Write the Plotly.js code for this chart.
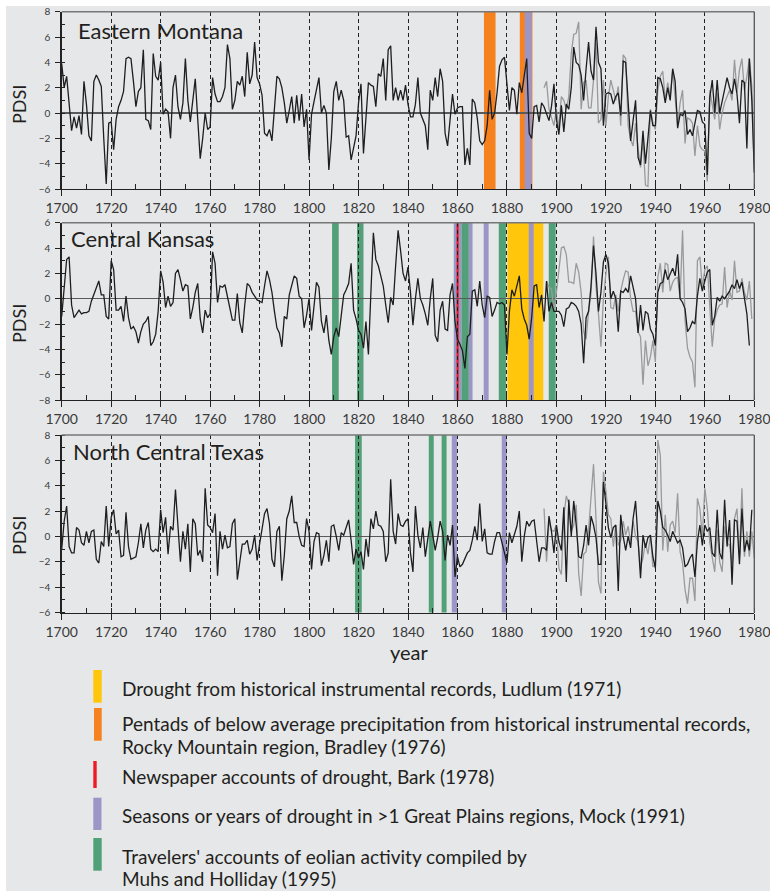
<!DOCTYPE html>
<html><head><meta charset="utf-8">
<script src="https://cdn.plot.ly/plotly-3.0.1.min.js"></script>
<style>html,body{margin:0;padding:0;background:#fff}#chart{width:770px;height:891px}</style>
</head><body><div id="chart"></div>
<script>
// ---------------- DATA ----------------
const treeStart = 1700;
const montanaTree = [
 3.9,2.0,2.9,1.0,-1.4,-0.3,-1.2,-0.2,-1.7,2.5,
 0.7,-1.8,-2.2,2.5,3.0,2.6,2.1,-2.0,-5.6,-0.8,
 -0.7,-2.9,-0.5,0.5,1.0,1.7,4.3,4.4,4.3,2.5,
 0.5,1.7,2.0,5.0,-0.5,-0.6,-1.3,4.7,2.9,2.6,
 4.0,-0.1,0.3,0.1,-2.0,2.0,3.0,0.5,-0.5,0.8,
 4.3,1.0,-0.7,1.0,2.7,-0.5,-3.6,-2.0,0.0,-1.3,
 -1.1,2.8,1.5,0.9,0.9,1.3,2.0,5.4,4.3,0.3,
 1.0,2.5,2.2,2.9,1.3,4.8,2.3,3.0,5.6,2.8,
 2.3,1.4,-1.6,-1.8,-1.3,-2.2,0.6,2.9,2.7,2.0,
 0.8,-0.8,0.2,1.3,-0.8,1.4,-0.6,1.5,-1.1,0.3,
 -3.7,-0.1,0.9,2.0,2.8,0.0,0.6,0.0,-4.5,-2.0,
 1.7,2.5,1.0,1.8,1.0,-1.9,-1.8,-3.7,-2.8,-1.8,
 0.8,2.3,-3.2,0.0,2.4,2.2,2.1,0.5,3.1,2.9,
 4.3,1.0,5.0,5.3,1.0,2.0,1.0,1.8,1.0,2.2,
 0.7,-0.3,-0.3,0.7,2.8,0.0,-0.5,-1.0,-2.9,1.8,
 1.0,2.8,1.3,3.5,2.5,-1.6,-2.6,-0.6,1.5,-0.1,
 0.4,0.5,0.5,-4.1,-2.8,-4.1,1.1,0.8,-0.4,-2.2,
 -2.5,-2.2,-1.0,1.8,-0.5,0.0,1.6,3.7,4.2,4.4,
 2.0,0.2,2.0,1.8,-0.1,2.4,1.6,2.8,4.3,-1.6,
 -2.0,0.5,0.6,-0.7,0.8,0.5,0.0,-0.6,0.5,2.3,
 -0.5,-1.7,0.6,-1.5,0.7,0.3,2.0,5.2,4.0,3.8,
 3.0,1.0,3.5,5.6,3.3,2.6,6.8,4.0,3.5,-1.0,
 1.5,1.6,1.5,0.7,1.3,1.6,-0.2,4.1,4.0,1.0,
 -2.2,-0.6,1.0,-3.5,-4.1,-1.4,-4.0,-2.0,0.2,-1.0,
 -1.0,2.8,2.7,2.0,0.8,2.0,1.0,3.5,2.5,-1.2,
 -0.1,-0.2,0.2,-1.7,-1.3,-1.8,-0.9,0.2,0.1,-0.7,
 -0.9,-4.9,1.2,2.6,0.0,2.6,0.0,1.0,1.8,2.8,
 2.0,1.5,2.7,1.5,-0.8,2.6,2.4,-2.8,4.3,1.0,
 -4.7];
const montanaInstrStart = 1895;
const montanaInstr = [
 2.0,2.5,0.3,-0.3,-1.0,0.3,-1.2,1.3,1.0,0.3,
 1.3,4.7,6.2,6.3,7.2,0.3,2.4,2.6,0.4,0.4,
 2.6,5.5,-0.8,-0.5,2.6,-1.0,1.3,2.6,1.8,1.0,
 2.1,-1.0,4.6,4.3,-1.0,-2.1,-2.6,-0.8,-2.8,-4.3,
 -2.1,-5.7,-5.8,0.3,-0.8,-1.3,1.8,2.9,3.3,1.0,
 2.4,1.3,3.4,1.0,-1.0,0.8,1.8,-2.4,-0.4,-0.5,
 -0.8,-3.4,-1.0,-2.6,-2.9,-3.0,-5.4,1.8,0.5,-0.5,
 1.6,-1.3,0.0,0.8,1.3,1.8,1.0,4.2,1.6,3.4,
 4.3,1.8,2.9,4.3,2.1,-4.7];

const kansasTree = [
 -1.4,0.8,3.1,3.3,-0.5,-1.5,-1.2,-0.9,-1.2,-1.1,
 -1.1,-1.0,-0.2,0.3,0.9,1.4,0.3,0.3,-1.4,-1.6,
 3.0,2.3,-0.9,-0.9,-0.6,-1.8,0.2,-1.5,-2.4,-2.2,
 -2.6,-3.5,-2.6,-2.0,-1.8,-1.4,-3.7,-3.4,-2.8,-1.0,
 2.2,1.3,-0.7,0.2,-0.6,-0.3,2.0,2.3,1.5,0.6,
 1.1,1.0,-1.6,-0.7,0.5,1.2,-1.6,-2.7,-0.9,-1.5,
 -1.2,3.7,2.8,-0.3,1.0,0.9,1.1,0.2,-0.6,-1.7,
 -1.7,0.4,-1.9,-2.7,-0.5,1.2,1.0,0.5,0.2,-0.1,
 -0.2,-0.3,1.0,2.2,1.5,0.5,-1.0,-2.3,-2.7,-3.8,
 -1.4,-1.6,0.3,1.0,1.8,1.6,0.2,0.0,-2.3,-1.3,
 0.0,-2.5,-0.5,1.3,0.9,-1.8,-2.7,-1.3,-3.3,-4.4,
 -3.0,-2.3,-3.0,-1.3,0.3,0.7,1.2,2.8,-0.9,-1.6,
 -2.5,-2.8,-3.9,-1.8,-4.4,0.5,5.2,3.1,2.6,1.8,
 1.0,-0.5,-1.9,0.1,-0.5,2.6,5.4,3.8,2.0,1.4,
 2.5,0.5,-2.1,0.0,1.6,0.0,-0.5,-1.2,-2.1,0.0,
 1.6,-2.9,-3.4,-0.9,-0.2,-2.4,-2.5,0.3,1.2,-1.8,
 -3.2,-3.6,-4.1,-5.5,-3.0,-2.8,0.6,0.7,-0.6,1.4,
 -0.5,-1.5,0.2,0.1,-1.4,-0.9,-0.3,-0.4,-0.3,-0.5,
 -4.4,-1.0,0.7,0.2,1.0,1.8,-0.8,-1.6,-2.1,-3.2,
 -1.5,1.0,1.1,-0.7,0.3,-1.8,1.4,-1.0,-0.3,-1.0,
 -1.0,-1.0,-1.3,-2.2,-0.8,-0.7,-0.3,-0.4,-0.6,-1.0,
 -2.0,-5.1,-1.5,-1.0,1.0,4.2,2.0,-1.0,0.5,2.9,
 3.5,2.8,0.0,0.6,0.0,-2.6,0.6,0.5,0.8,0.5,
 1.8,0.8,0.0,-2.7,-0.5,-2.5,-1.0,-1.2,-2.4,-2.8,
 -3.7,0.5,1.2,1.3,2.3,1.5,1.9,2.4,1.8,3.5,
 0.0,-0.3,-0.8,-2.6,-2.3,-1.8,-2.0,0.2,1.6,0.6,
 1.4,2.1,2.3,-2.1,-1.4,0.1,-0.2,0.2,0.0,0.3,
 0.6,1.1,0.8,1.5,0.8,1.3,0.1,-1.2,-3.7];
const kansasInstrStart = 1896;
const kansasInstr = [
 1.4,0.9,0.8,-1.0,0.5,2.5,4.0,4.1,3.5,1.3,
 1.3,1.2,2.8,2.1,0.5,-2.6,-3.2,-1.0,0.4,4.9,
 1.0,-1.2,-3.8,0.0,2.0,3.3,-0.7,-0.8,0.3,-1.0,
 0.6,1.5,2.2,2.1,0.0,-1.0,-1.0,-2.6,-3.0,-6.8,
 -3.3,-5.3,-4.6,-3.3,-5.0,1.7,2.8,0.5,2.8,2.7,
 0.6,1.3,1.6,1.7,0.0,5.4,-1.7,-3.9,-4.6,-5.0,
 -7.0,3.0,3.3,0.9,2.3,2.6,-0.9,-3.8,-1.6,-0.9,
 -0.5,-0.4,2.5,-0.7,0.6,-0.1,3.0,0.5,0.6,1.6,
 0.5,-0.1,1.4,-1.6];

const texasTree = [
 -1.0,1.2,2.4,-0.8,-1.3,-1.3,0.7,0.5,-0.5,-0.7,
 0.4,-0.5,0.4,0.5,-1.8,-2.1,-0.4,-0.8,2.4,-0.8,
 1.5,2.1,0.2,0.5,-1.6,-1.5,1.9,-0.8,-1.8,-1.7,
 -1.6,-0.5,1.0,-0.9,0.5,1.1,-1.0,-1.2,-1.0,-1.2,
 2.1,0.3,1.5,-1.4,0.8,0.5,3.7,0.8,-2.0,0.4,
 -1.0,1.0,-2.8,1.4,1.0,-1.5,-1.1,-2.0,3.8,0.9,
 0.7,0.3,1.8,-3.1,0.4,-1.0,0.1,-0.9,-0.8,1.0,
 1.4,-3.4,-2.1,-0.6,-0.6,-0.3,-1.4,-1.0,0.1,-1.9,
 -0.6,0.5,1.8,2.2,1.0,-1.8,-2.4,0.4,0.8,-3.5,
 -1.5,1.4,2.0,3.2,1.1,1.1,0.0,-0.7,-0.8,1.4,
 0.4,-2.6,-0.4,0.3,0.2,-2.3,-1.5,-0.3,-2.0,0.8,
 0.9,0.0,-1.1,0.3,0.1,0.7,1.3,-0.3,-2.2,-1.0,
 -1.7,-1.2,-2.6,-0.2,-1.6,1.4,0.6,2.0,0.9,0.8,
 0.4,-2.0,-1.3,4.5,0.4,-0.6,1.8,0.9,0.8,1.2,
 1.4,-1.3,-2.8,2.4,0.1,-0.9,0.7,-1.6,0.0,1.2,
 0.1,-1.1,-0.1,1.2,0.4,-1.9,0.1,-0.7,0.9,-3.2,
 -1.6,-2.4,-2.2,-1.7,-1.3,-1.1,-0.3,0.8,-0.3,2.6,
 -0.4,0.6,-1.3,-1.4,-1.4,-0.4,0.3,0.3,-0.6,-1.3,
 -2.1,0.3,-0.5,0.1,0.8,2.0,-2.0,0.0,1.2,0.8,
 1.2,1.3,-0.4,-2.0,-0.9,-0.9,-1.1,1.6,0.4,-1.3,
 0.9,-0.4,-1.1,2.3,-3.6,2.9,0.0,2.8,0.9,-1.6,
 -1.7,-0.7,0.9,-0.7,1.6,0.9,-0.1,-2.2,-2.2,4.3,
 2.6,0.7,-0.1,0.7,0.9,-4.3,1.7,0.0,-1.1,0.0,
 -0.9,1.4,2.8,0.1,-3.3,0.1,-0.9,-0.1,0.1,-1.6,
 -2.5,2.8,2.0,0.7,0.5,0.1,-0.4,0.4,-0.1,-0.5,
 -0.3,-0.9,-2.4,-2.2,-1.7,-1.4,-3.2,-0.4,0.9,-0.7,
 0.9,0.4,0.7,-1.3,-1.6,2.1,-1.3,-1.8,2.9,-0.8,
 1.3,-3.8,1.3,1.2,-2.2,2.2,-1.2,-0.3,-1.1,2.1];
const texasInstrStart = 1895;
const texasInstr = [
 2.2,-2.0,1.2,0.5,0.4,0.9,-2.5,-3.0,1.6,3.2,
 2.6,0.4,0.9,2.5,-2.9,-4.7,-1.4,-1.2,0.5,3.3,
 5.7,1.4,-3.6,-4.5,5.1,3.6,1.7,1.4,-0.8,0.9,
 -0.7,-0.3,1.2,0.1,0.8,-0.5,1.2,0.0,-0.4,-2.4,
 -1.7,-0.5,-1.4,0.1,-2.4,-2.2,7.6,6.4,-1.1,1.7,
 -1.2,0.9,1.2,0.3,3.4,-1.2,-2.1,-4.2,-5.3,-3.3,
 -3.3,-5.1,3.0,2.2,0.0,3.8,2.2,-0.5,-1.7,-2.8,
 0.5,-2.0,-2.8,0.8,-0.5,-0.7,-2.2,1.4,2.2,-1.6,
 3.8,-1.6,0.4,-1.6,0.4,-1.7];

// historical drought evidence: [startYear, endYear, source]
const montanaEvents = [[1870.7,1875.4,'orange'],[1885.2,1890.3,'orange'],[1887.2,1890.0,'purple']];
const kansasEvents = [[1809.3,1812.0,'green'],[1819.4,1822.0,'green'],[1858.5,1861.6,'purple'],
  [1859.6,1860.5,'red'],[1861.6,1864.6,'green'],[1864.6,1866.1,'purple'],[1870.6,1872.6,'purple'],
  [1876.7,1879.6,'green'],[1880.2,1894.7,'yellow'],[1888.8,1890.8,'purple'],[1896.9,1899.7,'green']];
const texasEvents = [[1818.6,1821.3,'green'],[1848.4,1850.4,'green'],[1853.6,1855.6,'green'],
  [1857.7,1859.8,'purple'],[1877.9,1879.9,'purple']];

const panelTitles = ['Eastern Montana','Central Kansas','North Central Texas'];
const legendKeys = ['yellow','orange','red','purple','green'];
const legendLines = [
 ['Drought from historical instrumental records, Ludlum (1971)'],
 ['Pentads of below average precipitation from historical instrumental records,','Rocky Mountain region, Bradley (1976)'],
 ['Newspaper accounts of drought, Bark (1978)'],
 ['Seasons or years of drought in >1 Great Plains regions, Mock (1991)'],
 ['Travelers\' accounts of eolian activity compiled by','Muhs and Holliday (1995)']];

// ---------------- STYLE / LAYOUT ----------------
const COLORS = {yellow:'#ffc60b', orange:'#f5821f', red:'#ed1c24', purple:'#9c96c8', green:'#52a077'};
const W = 770, H = 891;
const px = x => x / W;
const py = y => 1 - y / H;
const FONT = 'Lato, "Open Sans", sans-serif';
const yrs = (s, n) => Array.from({length: n}, (_, i) => s + i);

const panels = [
  {tree: montanaTree, instr: montanaInstr, instrStart: montanaInstrStart, events: montanaEvents, range: [-6, 8], top: 11.7, bot: 189, titleBase: 36.7, titleX: 76.7, pdsiY: 105},
  {tree: kansasTree, instr: kansasInstr, instrStart: kansasInstrStart, events: kansasEvents, range: [-8, 6], top: 222.7, bot: 400, titleBase: 245, titleX: 70, pdsiY: 324},
  {tree: texasTree, instr: texasInstr, instrStart: texasInstrStart, events: texasEvents, range: [-6, 8], top: 435, bot: 612.5, titleBase: 458.3, titleX: 71.7, pdsiY: 536}
];

const traces = [];
const shapes = [];
const annotations = [];
const layout = {
  width: W, height: H,
  margin: {l: 0, r: 0, t: 0, b: 0},
  paper_bgcolor: '#e6e7e9',
  plot_bgcolor: 'rgba(0,0,0,0)',
  showlegend: false,
  font: {family: FONT, color: '#333'}
};

// white frame strips
shapes.push({type: 'rect', xref: 'paper', yref: 'paper', x0: 0, x1: 1, y0: py(6), y1: 1, fillcolor: '#ffffff', line: {width: 0}, layer: 'below'});
shapes.push({type: 'rect', xref: 'paper', yref: 'paper', x0: 0, x1: px(6), y0: 0, y1: 1, fillcolor: '#ffffff', line: {width: 0}, layer: 'below'});

panels.forEach((p, i) => {
  const n = i === 0 ? '' : String(i + 1);
  const xa = 'x' + n, ya = 'y' + n;
  layout['xaxis' + n] = {
    domain: [px(61.7), px(754.3)], anchor: ya, range: [1700, 1980],
    tick0: 1700, dtick: 20, ticks: 'outside', ticklen: 6, tickwidth: 1, tickcolor: '#222',
    showline: true, linecolor: '#222', linewidth: 1.3,
    showgrid: true, gridcolor: '#222', gridwidth: 1, griddash: '4px,3px',
    zeroline: false, tickfont: {family: FONT, size: 14, color: '#3a3a3a'}, ticklabeloverflow: 'allow',
    minor: {tick0: 1700, dtick: 10, ticks: 'inside', ticklen: 5, tickwidth: 1, tickcolor: '#222', showgrid: false},
    fixedrange: true
  };
  layout['yaxis' + n] = {
    domain: [py(p.bot), py(p.top)], anchor: xa, range: p.range,
    tick0: 0, dtick: 2, ticks: 'outside', ticklen: 5, tickwidth: 1, tickcolor: '#222',
    showline: true, linecolor: '#222', linewidth: 1.3,
    showgrid: false, zeroline: true, zerolinecolor: '#5a5a5a', zerolinewidth: 1.5,
    tickfont: {family: FONT, size: 10, color: '#3a3a3a'}, ticklabelstandoff: 3, ticklabeloverflow: 'allow',
    minor: {tick0: 0, dtick: 1, ticks: 'inside', ticklen: 3, tickwidth: 1, tickcolor: '#222', showgrid: false},
    fixedrange: true
  };
  // event bars
  p.events.forEach(ev => {
    shapes.push({type: 'rect', xref: xa, yref: ya + ' domain', x0: ev[0], x1: ev[1], y0: 0, y1: 1,
      fillcolor: COLORS[ev[2]], line: {width: 0}, layer: 'below'});
  });
  // top & right frame
  shapes.push({type: 'line', xref: xa + ' domain', yref: ya + ' domain', x0: 0, x1: 1, y0: 1, y1: 1, line: {color: '#777', width: 1.5}});
  shapes.push({type: 'line', xref: xa + ' domain', yref: ya + ' domain', x0: 1, x1: 1, y0: 0, y1: 1, line: {color: '#555', width: 1.3}});
  // instrumental (grey) and reconstructed (black) series
  traces.push({type: 'scatter', mode: 'lines', x: yrs(p.instrStart, p.instr.length), y: p.instr, xaxis: xa, yaxis: ya,
    line: {color: '#9a9a9a', width: 1.3}, hoverinfo: 'skip'});
  traces.push({type: 'scatter', mode: 'lines', x: yrs(treeStart, p.tree.length), y: p.tree, xaxis: xa, yaxis: ya,
    line: {color: '#1e1e1e', width: 1.3}, hoverinfo: 'skip'});
  // title
  annotations.push({xref: 'paper', yref: 'paper', x: px(p.titleX), y: py(p.titleBase - 6.6), xanchor: 'left', yanchor: 'middle',
    text: panelTitles[i], showarrow: false, font: {family: FONT, size: 22, color: '#231f20'}, borderpad: 0});
  // PDSI
  annotations.push({xref: 'paper', yref: 'paper', x: px(19), y: py(p.pdsiY), xanchor: 'center', yanchor: 'middle',
    text: 'PDSI', textangle: -90, showarrow: false, font: {family: FONT, size: 18, color: '#231f20'}, borderpad: 0});
});

annotations.push({xref: 'paper', yref: 'paper', x: px(409), y: py(652), xanchor: 'center', yanchor: 'middle',
  text: 'year', showarrow: false, font: {family: FONT, size: 20, color: '#231f20'}, borderpad: 0});

// legend (colour keys + text)
const keyBox = [[93.3, 101.7, 670, 702.7], [94, 101.7, 708, 740.7], [93.3, 96.7, 761, 788], [93.3, 101.5, 797.7, 830], [93.3, 101.7, 838, 870.7]];
const textMid = [[688.5], [723.5, 746.5], [776.5], [815.5], [856, 878.5]];
legendKeys.forEach((k, i) => {
  const b = keyBox[i];
  shapes.push({type: 'rect', xref: 'paper', yref: 'paper', x0: px(b[0]), x1: px(b[1]), y0: py(b[3]), y1: py(b[2]),
    fillcolor: COLORS[k], line: {width: 0}});
  legendLines[i].forEach((t, j) => {
    annotations.push({xref: 'paper', yref: 'paper', x: px(121), y: py(textMid[i][j]), xanchor: 'left', yanchor: 'middle',
      text: t, showarrow: false, font: {family: FONT, size: 19, color: '#231f20'}, borderpad: 0});
  });
});

layout.shapes = shapes;
layout.annotations = annotations;
Plotly.newPlot('chart', traces, layout, {staticPlot: true, displayModeBar: false});
</script>
</body></html>
